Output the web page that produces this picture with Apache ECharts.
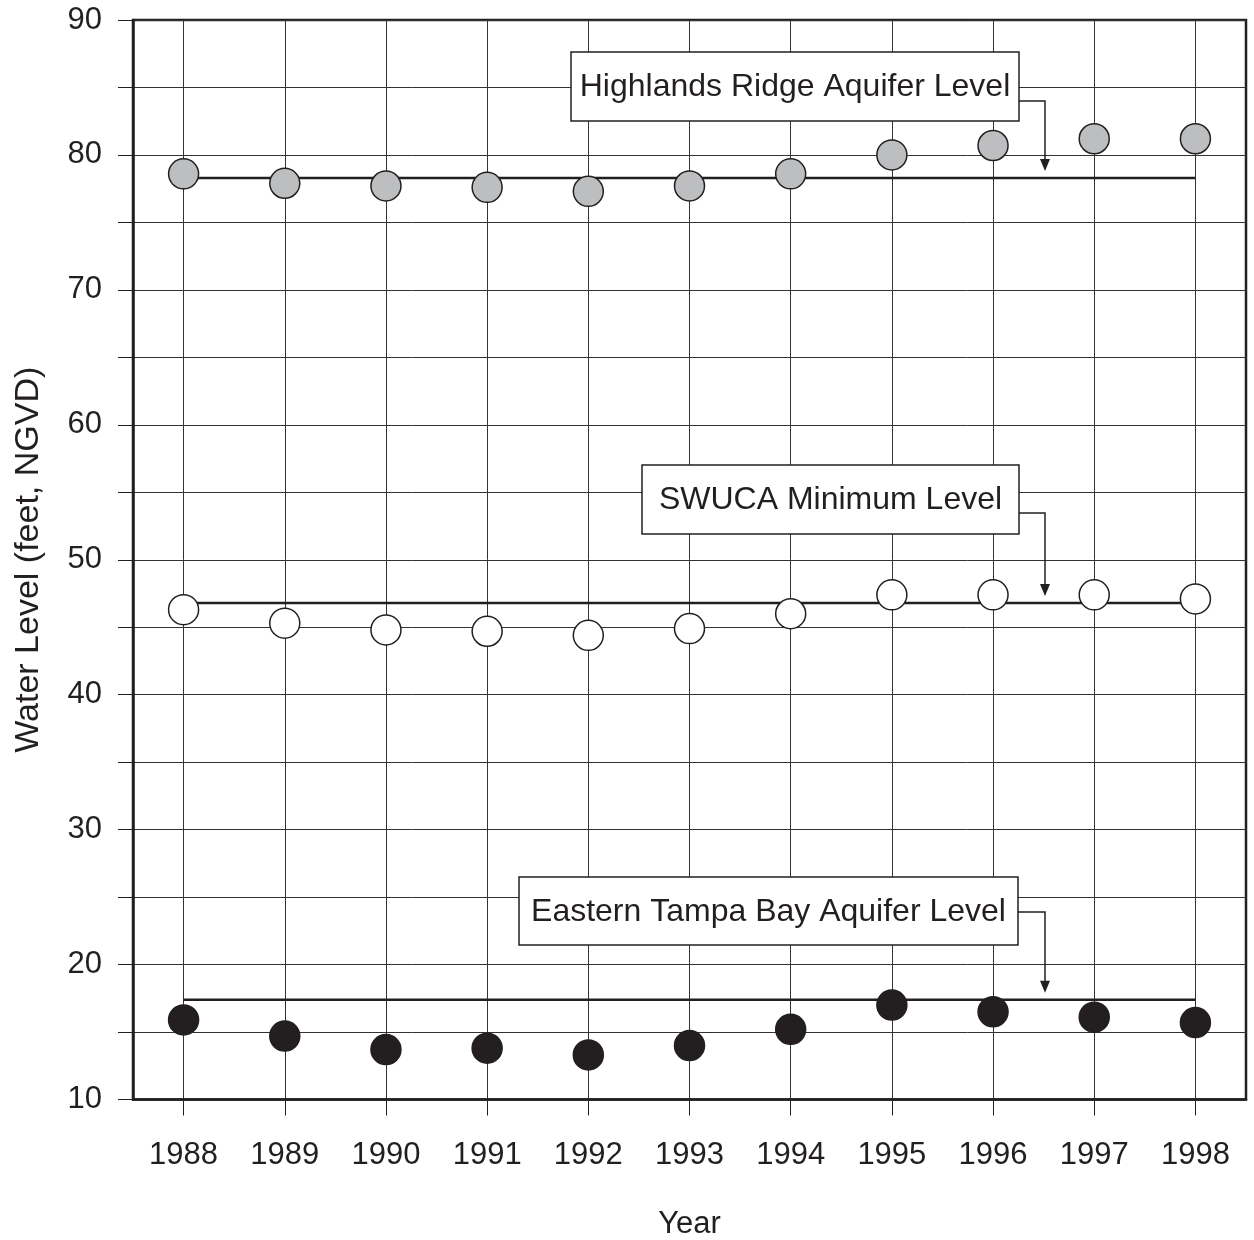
<!DOCTYPE html>
<html><head><meta charset="utf-8">
<script src="https://cdn.jsdelivr.net/npm/echarts@6/dist/echarts.min.js"></script>
<style>html,body{margin:0;padding:0;background:#fff}#c{width:1254px;height:1240px}</style>
</head><body><div id="c"></div>
<script>
const years = [1988,1989,1990,1991,1992,1993,1994,1995,1996,1997,1998];
const highlands = [78.6,77.9,77.7,77.6,77.3,77.7,78.6,80.0,80.7,81.2,81.2];
const swuca = [46.3,45.3,44.8,44.7,44.4,44.9,46.0,47.4,47.4,47.4,47.1];
const eastern = [15.9,14.7,13.7,13.8,13.3,14.0,15.2,17.0,16.5,16.1,15.7];
const highlandsRef = 78.3;
const swucaRef = 46.8;
const easternRef = 17.4;
const yTicks = [10,20,30,40,50,60,70,80,90];
const labels = ['Highlands Ridge Aquifer Level','SWUCA Minimum Level','Eastern Tampa Bay Aquifer Level'];

const INK = '#231f20';
const FONT = 'Liberation Sans';
const chart = echarts.init(document.getElementById('c'), null, {renderer:'canvas'});
const pts = arr => arr.map((v,i)=>[years[i], v]);
const refLine = v => [[years[0], v],[years[years.length-1], v]];

function scatter(data, color){
  return {type:'scatter', data:pts(data), symbol:'circle', symbolSize:30, z:5,
    itemStyle:{color:color, borderColor:INK, borderWidth:1.5, opacity:1}};
}
function line(v){
  return {type:'line', data:refLine(v), symbol:'none', z:3,
    lineStyle:{color:INK, width:2.5}};
}

chart.setOption({
  animation:false,
  backgroundColor:'#fff',
  grid:{left:133, top:20, width:1113, height:1079.5, outerBoundsMode:'none', containLabel:false,
    show:true, borderColor:INK, borderWidth:2.5, backgroundColor:'transparent'},
  xAxis:{type:'value', min:1987.5, max:1998.5,
    name:'Year', nameLocation:'middle', nameGap:109,
    nameTextStyle:{fontFamily:FONT, fontSize:31, color:INK},
    axisLine:{show:true, lineStyle:{color:INK, width:2.5}},
    axisTick:{show:true, inside:false, length:16, customValues:years, lineStyle:{color:INK, width:1}},
    axisLabel:{customValues:years, margin:40, fontFamily:FONT, fontSize:31, color:INK,
      formatter:v => String(v)},
    splitLine:{show:true, lineStyle:{color:'#333', width:1}}
  },
  yAxis:{type:'value', min:10, max:90, interval:5,
    name:'Water Level (feet, NGVD)', nameLocation:'middle', nameGap:87,
    nameTextStyle:{fontFamily:FONT, fontSize:34, color:INK},
    axisLine:{show:true, lineStyle:{color:INK, width:2.5}},
    axisTick:{show:true, inside:false, length:15, lineStyle:{color:INK, width:1}},
    axisLabel:{margin:31, fontFamily:FONT, fontSize:31, color:INK,
      formatter:v => yTicks.indexOf(v) >= 0 ? String(v) : ''},
    splitLine:{show:true, lineStyle:{color:'#333', width:1}}
  },
  series:[
    line(highlandsRef), line(swucaRef), line(easternRef),
    scatter(highlands, '#bcbec0'),
    scatter(swuca, '#ffffff'),
    scatter(eastern, INK)
  ]
});

// annotation boxes with arrows pointing at reference lines
const boxes = [
  {text:labels[0], x1:571, x2:1019, y1:52, y2:121, ay:101, ref:highlandsRef},
  {text:labels[1], x1:642, x2:1019, y1:465, y2:534, ay:513, ref:swucaRef},
  {text:labels[2], x1:519, x2:1018, y1:877, y2:945, ay:912, ref:easternRef}
];
const arrowX = 1045;
const g = [];
boxes.forEach(b => {
  const tipY = chart.convertToPixel({gridIndex:0}, [1996.5, b.ref])[1] - 7;
  g.push({type:'rect', z:10, shape:{x:b.x1, y:b.y1, width:b.x2-b.x1, height:b.y2-b.y1},
    style:{fill:'#fff', stroke:INK, lineWidth:1.5}});
  g.push({type:'text', z:11, x:(b.x1+b.x2)/2, y:(b.y1+b.y2)/2 + 1,
    style:{text:b.text, fontFamily:FONT, fontSize:32, fill:INK, align:'center', verticalAlign:'middle'}});
  g.push({type:'polyline', z:10, shape:{points:[[b.x2, b.ay],[arrowX, b.ay],[arrowX, tipY-8]]},
    style:{stroke:INK, lineWidth:1.5, fill:null}});
  g.push({type:'polygon', z:10, shape:{points:[[arrowX-5, tipY-12],[arrowX+5, tipY-12],[arrowX, tipY]]},
    style:{fill:INK}});
});
chart.setOption({graphic:g});
</script></body></html>
